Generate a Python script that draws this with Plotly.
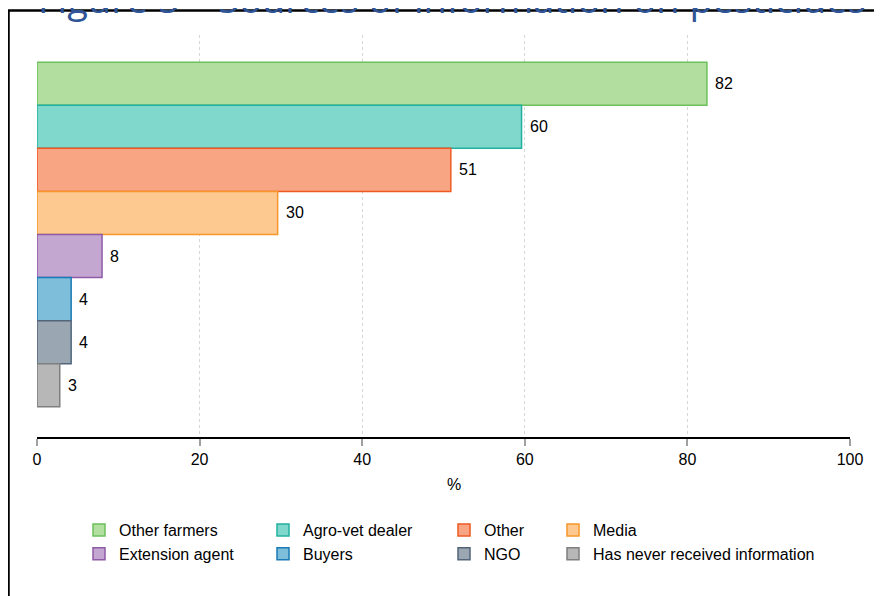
import plotly.graph_objects as go

# ---- data ----
categories = ["Other farmers", "Agro-vet dealer", "Other", "Media",
              "Extension agent", "Buyers", "NGO", "Has never received information"]
values = [82.4, 59.6, 50.9, 29.6, 8.0, 4.2, 4.2, 2.8]
fill_colors = ["#b2dea0", "#80d8cd", "#f8a584", "#fdc990",
               "#c4a7d1", "#7fbedb", "#9aa7b3", "#b7b7b7"]
line_colors = ["#6cc05c", "#22b0a0", "#f05a22", "#f7962a",
               "#8e5ba8", "#1a7ab5", "#52657a", "#7f7f7f"]
legend_ids = ["legend", "legend2", "legend3", "legend4",
              "legend", "legend2", "legend3", "legend4"]
x_ticks = [0, 20, 40, 60, 80, 100]
x_title = "%"
title_text = "Figure 5 \u2013 Sources of information on pesticides"

W, H = 882, 596
OFF = 8  # page body margin in the browser
L, R, T, B = 29, 40, 27, 167
pw, ph = W - L - R, H - T - B


def px_x(screen):
    return (screen - OFF - L) / pw


def px_y(screen):
    return (H - B - (screen - OFF)) / ph


n = len(categories)
fig = go.Figure()
for i, (cat, v) in enumerate(zip(categories, values)):
    pos = n - 1 - i
    fig.add_trace(go.Bar(
        x=[v], y=[pos], orientation="h", width=1,
        name=cat, legend=legend_ids[i], legendgroup=cat,
        marker=dict(color=fill_colors[i], line=dict(color=line_colors[i], width=1.5)),
        hovertemplate=cat + ": %{x}<extra></extra>",
    ))
    fig.add_annotation(
        x=v, y=pos, xref="x", yref="y", text=f"{v:.0f}",
        showarrow=False, xanchor="left", xshift=6,
        font=dict(family="Liberation Sans, Arial", size=16, color="black"),
    )

# title (cut off at the top of the page, as in the reference)
fig.add_annotation(
    x=px_x(36), y=px_y(26), xref="paper", yref="paper", xanchor="left", yanchor="bottom",
    text=title_text, showarrow=False,
    font=dict(family="Open Sans", size=38, color="#2f5597"),
)

# x-axis title
fig.add_annotation(
    x=px_x(454), y=px_y(484), xref="paper", yref="paper", xanchor="center", yanchor="middle",
    text=x_title, showarrow=False,
    font=dict(family="Liberation Sans, Arial", size=16, color="black"),
)

# page border
fig.add_shape(type="rect", xref="paper", yref="paper",
              x0=px_x(8.5), x1=px_x(940), y0=px_y(660), y1=px_y(10.5),
              line=dict(color="black", width=2.5), fillcolor="rgba(0,0,0,0)")

font = dict(family="Liberation Sans, Arial", size=16, color="black")
leg_common = dict(orientation="v", font=font, bgcolor="rgba(0,0,0,0)",
                  borderwidth=0, yanchor="top", xanchor="left",
                  tracegroupgap=0, y=px_y(513))
fig.update_layout(
    width=W, height=H,
    margin=dict(l=L, r=R, t=T, b=B),
    paper_bgcolor="white", plot_bgcolor="white",
    barmode="overlay",
    font=font,
    xaxis=dict(range=[0, 100], tickvals=x_ticks, showgrid=True, griddash="dot",
               gridcolor="#d6d6d6", gridwidth=1, zeroline=False,
               showline=True, linecolor="black", linewidth=1.5,
               ticks="outside", ticklen=7, tickcolor="#a0a0a0", tickwidth=1.5,
               tickfont=font),
    yaxis=dict(range=[-1.2, n - 0.5 + 0.63], visible=False),
    legend=dict(x=px_x(79), **leg_common),
    legend2=dict(x=px_x(263), **leg_common),
    legend3=dict(x=px_x(444), **leg_common),
    legend4=dict(x=px_x(553), **leg_common),
    showlegend=True,
)

fig.write_html("out.html")
